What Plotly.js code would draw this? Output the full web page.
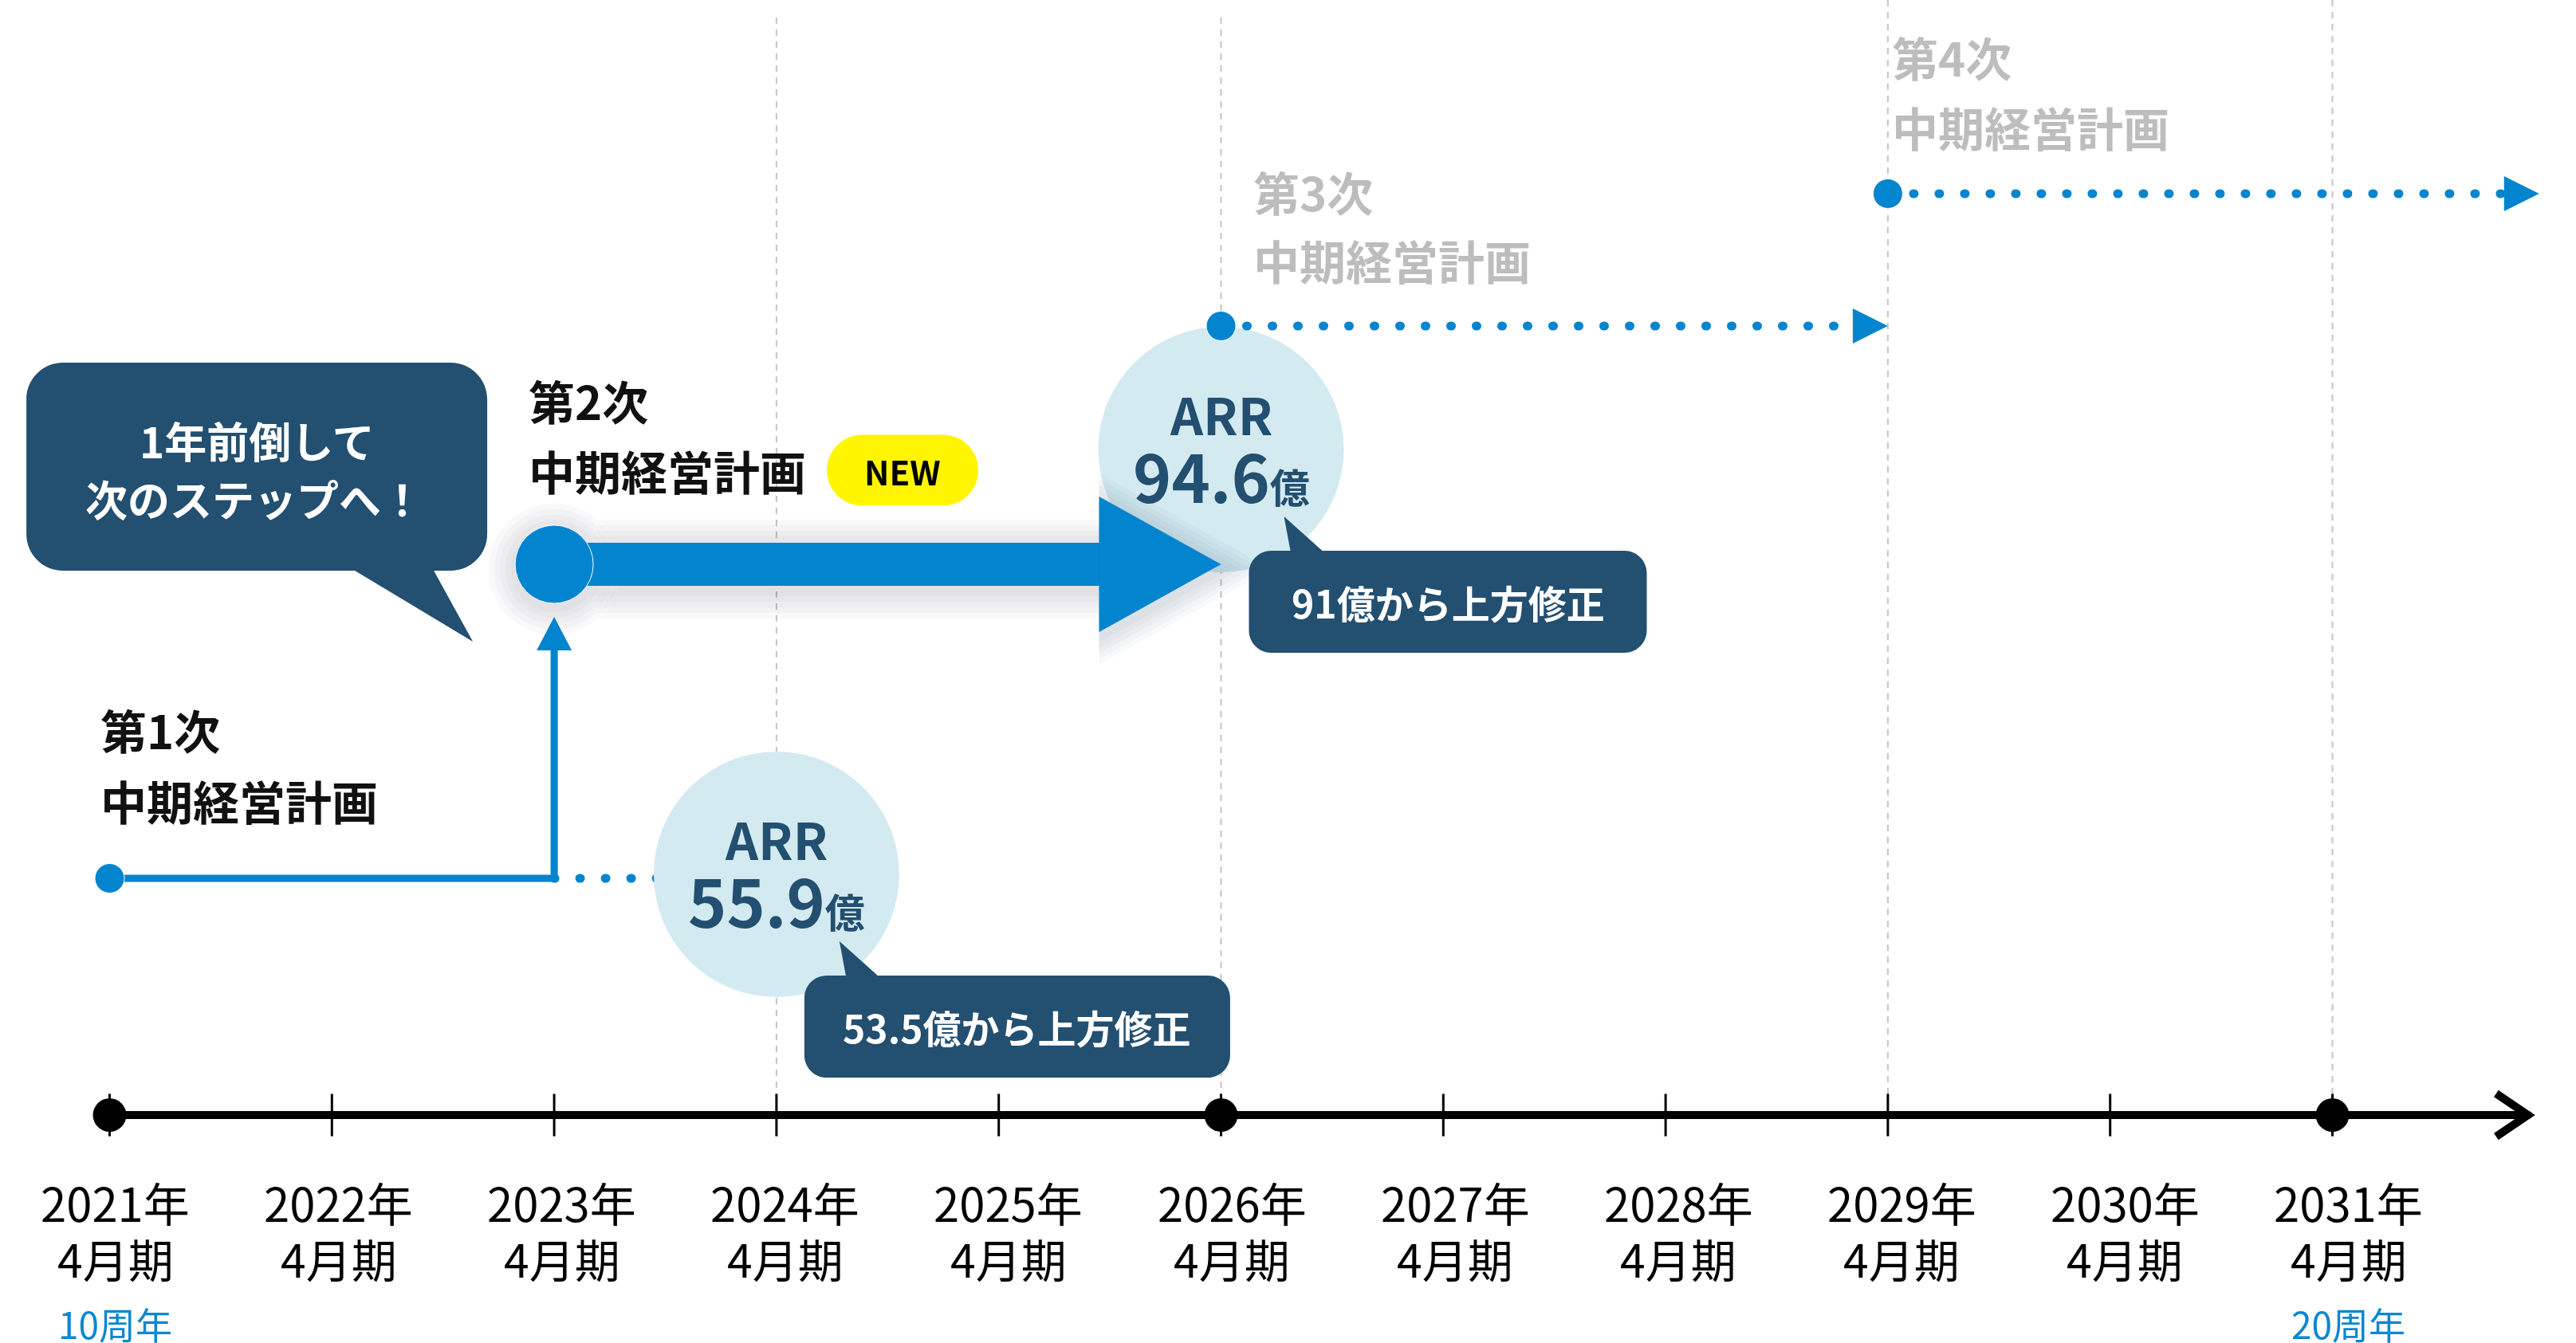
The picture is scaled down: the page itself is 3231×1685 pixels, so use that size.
<!DOCTYPE html>
<html><head><meta charset="utf-8">
<script src="https://cdn.plot.ly/plotly-3.0.1.min.js"></script>
<style>
html,body{margin:0;padding:0;background:#fff;}
#chart{width:3231px;height:1685px;}
.scatterlayer .js-line{stroke-linecap:round;stroke-linejoin:round;}
</style></head><body><div id="chart"></div>
<script>
// ---------------- data ----------------
const years = [2021, 2022, 2023, 2024, 2025, 2026, 2027, 2028, 2029, 2030, 2031];
const yearTickLabels = ['2021年','2022年','2023年','2024年','2025年','2026年','2027年','2028年','2029年','2030年','2031年'];
const periodLabels = ['4月期','4月期','4月期','4月期','4月期','4月期','4月期','4月期','4月期','4月期','4月期'];
const milestoneYears = [2021, 2026, 2031];
const anniversaryYears = [2021, 2031];
const anniversaryLabels = ['10周年', '20周年'];
const gridYears = [2024, 2026, 2029, 2031];

const phaseNames = ['第1次', '第2次', '第3次', '第4次'];
const phaseSubtitles = ['中期経営計画', '中期経営計画', '中期経営計画', '中期経営計画'];
const phaseStart = [2021, 2023, 2026, 2029];
const phaseEnd = [2023, 2026, 2029, 2031.93];
const phase1PlannedEnd = 2024;

const arrYears = [2024, 2026];
const arrLabel = 'ARR';
const arrValues = [55.9, 94.6];
const arrPrevForecast = [53.5, 91];
const arrUnit = '億';
const calloutLines = ['1年前倒して', '次のステップへ！'];
const newBadge = 'NEW';

// ---------------- layout / style ----------------
const W = 3231, H = 1685;
const PXY = 278.8, X0PX = 137.5;
const xRange = [2021 - X0PX / PXY, 2021 + (W - X0PX) / PXY];
const px2yr = p => p / PXY;
const AXIS_Y = 1399;
const AXIS_END = 2031.88;
const LEVEL = [1102, 708, 409, 243];
const ARR_Y = [1097, 564];
const P1_ARROW_TIP = 774;
const GRID_TOP = [22, 22, 0, 0];
const PHASE_LABEL_DX = [-14, -34, 38, 3];
const PHASE_NAME_Y = [915, 502, 240, 71];
const PHASE_SUB_Y = [1004, 590, 326, 159];
const PHASE_COLOR = ['#111111', '#111111', '#bdbdbd', '#bdbdbd'];
const CALLOUT_W = [534, 499];
const labelShift = i => 7 + 1.3 * i;

const BLUE = '#0284cf', NAVY = '#234f70', LIGHT = '#d4eaf1', YEL = '#fff500', GRIDC = '#c4c4c4', TXTBLUE = '#0a87d0';
const FONT = '"Noto Sans CJK JP", "Noto Sans", sans-serif';

// ---------------- helpers ----------------
const K = 0.5523;
const c = (x, y) => x.toFixed(1) + ',' + (-y).toFixed(1);
function roundBox(l, t, r, b, rad, tail) {
  let s = 'M' + c(l + rad, t);
  if (tail && tail.side === 'top') s += ' L' + c(tail.a, t) + ' L' + c(tail.tx, tail.ty) + ' L' + c(tail.b, t);
  s += ' L' + c(r - rad, t) + ' C' + c(r - rad + K * rad, t) + ' ' + c(r, t + rad - K * rad) + ' ' + c(r, t + rad);
  s += ' L' + c(r, b - rad) + ' C' + c(r, b - rad + K * rad) + ' ' + c(r - rad + K * rad, b) + ' ' + c(r - rad, b);
  if (tail && tail.side === 'bottom') s += ' L' + c(tail.b, b) + ' L' + c(tail.tx, tail.ty) + ' L' + c(tail.a, b);
  s += ' L' + c(l + rad, b) + ' C' + c(l + rad - K * rad, b) + ' ' + c(l, b - rad + K * rad) + ' ' + c(l, b - rad);
  s += ' L' + c(l, t + rad) + ' C' + c(l, t + rad - K * rad) + ' ' + c(l + rad - K * rad, t) + ' ' + c(l + rad, t) + ' Z';
  return s;
}
function poly(pts, close) { return 'M' + pts.map(p => c(p[0], p[1])).join(' L') + (close === false ? '' : ' Z'); }
function pxShape(xa, ya, path, fill, extra) {
  return Object.assign({type: 'path', xref: 'x', yref: 'y', xsizemode: 'pixel', ysizemode: 'pixel',
    xanchor: xa, yanchor: ya, path: path, fillcolor: fill, line: {width: 0}, layer: 'above'}, extra || {});
}
function ann(o) {
  return Object.assign({xref: 'x', yref: 'y', showarrow: false, xanchor: 'center', yanchor: 'middle'}, o);
}

// ---------------- traces ----------------
const traces = [];
const base = {hoverinfo: 'skip', showlegend: false, type: 'scatter'};
// time axis
traces.push(Object.assign({x: [years[0], AXIS_END], y: [AXIS_Y, AXIS_Y], mode: 'lines', line: {color: '#000', width: 10}}, base));
traces.push(Object.assign({x: years, y: years.map(() => AXIS_Y), mode: 'markers',
  marker: {symbol: 'line-ns', size: 38, opacity: 1, line: {width: 3, color: '#000'}}}, base));
traces.push(Object.assign({x: milestoneYears, y: milestoneYears.map(() => AXIS_Y), mode: 'markers',
  marker: {size: 42, color: '#000', opacity: 1}}, base));
// phase 1: planned remainder (dotted) and actual (solid, turns up to phase 2)
traces.push(Object.assign({x: [phaseEnd[0], phase1PlannedEnd], y: [LEVEL[0], LEVEL[0]], mode: 'lines',
  line: {color: BLUE, width: 11, dash: '1px,31px'}}, base));
traces.push(Object.assign({x: [phaseStart[0], phaseEnd[0], phaseEnd[0]], y: [LEVEL[0], LEVEL[0], P1_ARROW_TIP + 42],
  mode: 'lines+markers', line: {color: BLUE, width: 9}, marker: {size: [37, 0, 0], color: BLUE, opacity: 1}}, base));
// ARR bubbles
traces.push(Object.assign({x: arrYears, y: ARR_Y, mode: 'markers', marker: {size: 308, color: LIGHT, opacity: 1, line: {width: 0}}}, base));
// phase 2 shadow
const p2End = phaseEnd[1] - px2yr(153);
for (let k = 5; k >= 1; k--) {
  traces.push(Object.assign({x: [phaseStart[1], p2End], y: [LEVEL[1] + 6, LEVEL[1] + 6], mode: 'lines+markers',
    opacity: 0.03, line: {color: '#283c5a', width: 54 + 14 * k}, marker: {size: [96 + 14 * k, 0], color: '#283c5a', opacity: 1}}, base));
}
// phase 2
traces.push(Object.assign({x: [phaseStart[1], p2End], y: [LEVEL[1], LEVEL[1]], mode: 'lines+markers',
  line: {color: BLUE, width: 54}, marker: {size: [98, 0], color: BLUE, opacity: 1}}, base));
// phase 3, 4
[2, 3].forEach(i => {
  traces.push(Object.assign({x: [phaseStart[i], phaseEnd[i] - px2yr(44)], y: [LEVEL[i], LEVEL[i]], mode: 'lines+markers',
    line: {color: BLUE, width: 11, dash: '1px,31px'}, marker: {size: [37, 0], color: BLUE, opacity: 1}}, base));
});

// ---------------- shapes ----------------
const shapes = [];
gridYears.forEach((g, i) => shapes.push({type: 'line', xref: 'x', yref: 'y', x0: g, x1: g, y0: GRID_TOP[i], y1: AXIS_Y,
  line: {color: GRIDC, width: 2, dash: '8px,7px'}, layer: 'below'}));
// axis chevron
shapes.push(pxShape(AXIS_END, AXIS_Y, poly([[-40, -27], [0, 0], [-40, 27]], false), 'rgba(0,0,0,0)',
  {line: {color: '#000', width: 10}}));
// phase 1 up arrowhead
shapes.push(pxShape(phaseEnd[0], P1_ARROW_TIP, poly([[0, 0], [-22, 42], [22, 42]]), BLUE));
// phase 2 arrowhead shadow + arrowhead
for (let k = 5; k >= 1; k--) {
  const e = 7 * k;
  shapes.push(pxShape(phaseEnd[1], LEVEL[1] + 6, poly([[-153, -85 - e], [e * 1.8, 0], [-153, 85 + e]]), 'rgba(40,60,90,0.03)'));
}
shapes.push(pxShape(phaseEnd[1], LEVEL[1], poly([[-153, -85], [0, 0], [-153, 85]]), BLUE));
// phase 3, 4 arrowheads
[2, 3].forEach(i => shapes.push(pxShape(phaseEnd[i], LEVEL[i], poly([[-44, -22], [0, 0], [-44, 22]]), BLUE)));
// ARR callouts
arrYears.forEach((yr, i) => {
  shapes.push(pxShape(yr, ARR_Y[i], roundBox(35, 127, 35 + CALLOUT_W[i], 255, 28,
    {side: 'top', a: 87, b: 127, tx: 79, ty: 84}), NAVY));
});
// "1年前倒して" callout
shapes.push(pxShape(phaseStart[1], LEVEL[1], roundBox(-662, -253, -84, 8, 46,
  {side: 'bottom', a: -250, b: -151, tx: -102, ty: 97}), NAVY));
// NEW pill
shapes.push(pxShape(phaseStart[1], LEVEL[1], roundBox(437 - 95, -118 - 44.5, 437 + 95, -118 + 44.5, 44.5), YEL));

// ---------------- annotations ----------------
const annotations = [];
years.forEach((yr, i) => {
  annotations.push(ann({x: yr, xshift: labelShift(i), y: 1508, text: yearTickLabels[i], font: {family: FONT, size: 58, color: '#000'}}));
  annotations.push(ann({x: yr, xshift: labelShift(i), y: 1578, text: periodLabels[i], font: {family: FONT, size: 57, color: '#000'}}));
});
anniversaryYears.forEach((yr) => {
  const i = years.indexOf(yr);
  annotations.push(ann({x: yr, xshift: labelShift(i), y: 1660, text: anniversaryLabels[anniversaryYears.indexOf(yr)],
    font: {family: FONT, size: 46, color: TXTBLUE}}));
});
phaseNames.forEach((nm, i) => {
  annotations.push(ann({x: phaseStart[i], xshift: PHASE_LABEL_DX[i], xanchor: 'left', y: PHASE_NAME_Y[i], text: nm,
    font: {family: FONT, size: 58, color: PHASE_COLOR[i], weight: 'bold'}}));
  annotations.push(ann({x: phaseStart[i], xshift: PHASE_LABEL_DX[i], xanchor: 'left', y: PHASE_SUB_Y[i], text: phaseSubtitles[i],
    font: {family: FONT, size: 58, color: PHASE_COLOR[i], weight: 'bold'}}));
});
arrYears.forEach((yr, i) => {
  annotations.push(ann({x: yr, y: ARR_Y[i] - 46, text: arrLabel, font: {family: FONT, size: 64, color: NAVY, weight: 'bold'}}));
  annotations.push(ann({x: yr, y: ARR_Y[i] + 31, text: arrValues[i] + '<span style="font-size:50px">' + arrUnit + '</span>',
    font: {family: FONT, size: 82, color: NAVY, weight: 'bold'}}));
  annotations.push(ann({x: yr, xshift: 35 + CALLOUT_W[i] / 2, y: ARR_Y[i] + 191, text: arrPrevForecast[i] + arrUnit + 'から上方修正',
    font: {family: FONT, size: 48, color: '#ffffff', weight: 'bold'}}));
});
annotations.push(ann({x: phaseStart[1], xshift: -373, y: LEVEL[1] - 156, text: calloutLines[0],
  font: {family: FONT, size: 53, color: '#ffffff', weight: 'bold'}}));
annotations.push(ann({x: phaseStart[1], xshift: -376, y: LEVEL[1] - 83, text: calloutLines[1],
  font: {family: FONT, size: 53, color: '#ffffff', weight: 'bold'}}));
annotations.push(ann({x: phaseStart[1], xshift: 437, y: LEVEL[1] - 118, text: newBadge,
  font: {family: FONT, size: 42, color: '#000', weight: 'bold'}}));

const layout = {
  width: W, height: H, margin: {l: 0, r: 0, t: 0, b: 0, pad: 0},
  paper_bgcolor: '#fff', plot_bgcolor: '#fff', showlegend: false,
  xaxis: {range: xRange, visible: false, fixedrange: true},
  yaxis: {range: [H, 0], visible: false, fixedrange: true},
  shapes: shapes, annotations: annotations
};
Plotly.newPlot('chart', traces, layout, {displayModeBar: false, staticPlot: true});
</script></body></html>
